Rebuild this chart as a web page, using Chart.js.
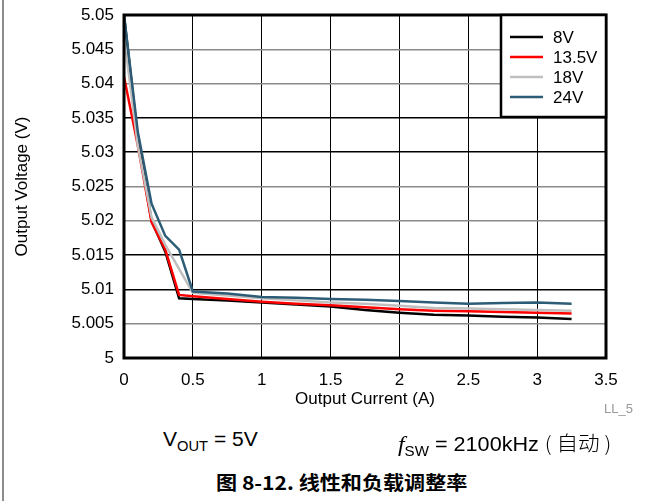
<!DOCTYPE html>
<html>
<head>
<meta charset="utf-8">
<script src="https://cdn.jsdelivr.net/npm/chart.js@4"></script>
<style>
  body { margin: 0; background: #fff; font-family: "Liberation Sans", Arial, sans-serif; }
  #page { position: relative; width: 662px; height: 501px; overflow: hidden; }
  #leftrule { position: absolute; left: 2px; top: 0; width: 2px; height: 501px; background: #8c8c8c; }
  #wrap { position: absolute; left: 0; top: 0; width: 662px; height: 415px; }
  .txt { position: absolute; white-space: nowrap; color: #000; transform-origin: left top; }
  sub { font-size: 14px; vertical-align: -5px; }
</style>
</head>
<body>
<div id="page">
  <div id="leftrule"></div>
  <div id="wrap"><canvas id="loadChart"></canvas></div>
  <div class="txt" style="left:604px; top:401px; font-size:13px; color:#999;">LL_5</div>
  <div class="txt" style="left:163px; top:428px; font-size:20px; transform:scaleX(1.05);">V<sub>OUT</sub> = 5V</div>
  <div class="txt" style="left:398px; top:428px; font-size:20px; transform:scaleX(1.08);"><span style="font-family:'Liberation Serif',serif; font-style:italic; font-size:22px;">f</span><sub>SW</sub> = 2100kHz <span style="font-family:'Noto Sans CJK SC',sans-serif; font-weight:300;">( 自动 )</span></div>
  <div class="txt" style="left:216px; top:468px; font-size:19px; font-weight:bold; font-family:'Noto Sans CJK SC','Liberation Sans',sans-serif; transform:scaleX(1.11);">图 8-12. 线性和负载调整率</div>
</div>
<script>
// output current (A)
const current = [0, 0.1, 0.2, 0.3, 0.4, 0.5, 0.75, 1.0, 1.25, 1.5, 1.75, 2.0, 2.25, 2.5, 2.75, 3.0, 3.25];

// output voltage (V) for each input voltage
const vin8 = [5.05, 5.032, 5.020, 5.0155, 5.0087, 5.0086, 5.0084, 5.0081, 5.0078, 5.0075, 5.0070, 5.0066, 5.0063, 5.0062, 5.0060, 5.0059, 5.0057];
const vin13 = [5.041, 5.031, 5.0198, 5.0158, 5.0092, 5.0090, 5.0086, 5.0082, 5.0079, 5.0077, 5.0074, 5.0071, 5.0069, 5.0068, 5.0067, 5.0066, 5.0065];
const vin18 = [5.047, 5.031, 5.0205, 5.0165, 5.0130, 5.0095, 5.0091, 5.0087, 5.0084, 5.0081, 5.0079, 5.0076, 5.0073, 5.0072, 5.0071, 5.0070, 5.0069];
const vin24 = [5.05, 5.033, 5.0225, 5.0178, 5.0158, 5.0097, 5.0094, 5.0089, 5.0088, 5.0086, 5.0085, 5.0083, 5.0081, 5.0079, 5.0080, 5.0081, 5.0079];

const seriesNames = ['8V', '13.5V', '18V', '24V'];
const seriesColors = ['#000000', '#ff0000', '#bfbfbf', '#2d5c76'];

const yTickLabels = ['5', '5.005', '5.01', '5.015', '5.02', '5.025', '5.03', '5.035', '5.04', '5.045', '5.05'];
const xTickLabels = ['0', '0.5', '1', '1.5', '2', '2.5', '3', '3.5'];

const toPoints = ys => ys.map((y, i) => ({ x: current[i], y: y }));
const allSeries = [vin8, vin13, vin18, vin24];
const FONT = '"Liberation Sans", Arial, sans-serif';

const datasets = allSeries.map((ys, i) => ({
    label: seriesNames[i],
    data: toPoints(ys),
    borderColor: seriesColors[i],
    backgroundColor: seriesColors[i],
    borderWidth: 2.5,
    pointRadius: 0,
    tension: 0,
    order: 3 - i
}));

// frame round the plot and the boxed legend in the top right
const framePlugin = {
    id: 'frame',
    afterDraw(chart) {
        const { ctx, chartArea: a } = chart;
        ctx.save();
        ctx.strokeStyle = '#000';
        ctx.lineWidth = 3;
        ctx.strokeRect(a.left, a.top, a.right - a.left, a.bottom - a.top);

        // legend
        const bx = 501, by = a.top, bw = a.right - bx, bh = 102;
        ctx.fillStyle = '#fff';
        ctx.fillRect(bx, by, bw, bh);
        ctx.lineWidth = 2.5;
        ctx.strokeRect(bx, by, bw, bh);
        ctx.font = '17px ' + FONT;
        ctx.textBaseline = 'middle';
        chart.data.datasets.forEach((ds, i) => {
            const y = 37 + i * 20;
            ctx.strokeStyle = ds.borderColor;
            ctx.lineWidth = 2.5;
            ctx.beginPath();
            ctx.moveTo(510, y);
            ctx.lineTo(543, y);
            ctx.stroke();
            ctx.fillStyle = '#000';
            ctx.fillText(ds.label, 553, y + 1);
        });
        ctx.restore();
    }
};

const hGridColor = ctx => {
    const k = ctx.index % 4;
    return (k === 2 || k === 3) ? '#000' : '#8a8a8a';
};

const ctx = document.getElementById('loadChart').getContext('2d');
const loadChart = new Chart(ctx, {
    type: 'line',
    data: { datasets: datasets },
    options: {
        responsive: true,
        maintainAspectRatio: false,
        animation: false,
        layout: { padding: { left: 0, right: 56, top: 15, bottom: 0 } },
        plugins: { legend: { display: false }, tooltip: { enabled: false } },
        scales: {
            x: {
                type: 'linear',
                min: 0,
                max: 3.5,
                afterFit: s => { s.height = 57; s.paddingLeft = 0; s.paddingRight = 0; },
                afterBuildTicks: s => { s.ticks = xTickLabels.map(v => ({ value: parseFloat(v) })); },
                ticks: {
                    color: '#000',
                    padding: 12,
                    maxRotation: 0,
                    font: { family: FONT, size: 17 },
                    callback: (v, i) => xTickLabels[i]
                },
                grid: { color: '#000', lineWidth: 1, drawTicks: false },
                border: { display: false },
                title: {
                    display: true,
                    text: 'Output Current (A)',
                    color: '#000',
                    padding: { top: 0, bottom: 5 },
                    font: { family: FONT, size: 17 }
                }
            },
            y: {
                type: 'linear',
                min: 5,
                max: 5.05,
                afterFit: s => { s.width = 124; s.paddingTop = 0; s.paddingBottom = 0; },
                afterBuildTicks: s => { s.ticks = yTickLabels.map(v => ({ value: parseFloat(v) })); },
                ticks: {
                    color: '#000',
                    padding: 10,
                    font: { family: FONT, size: 17 },
                    callback: (v, i) => yTickLabels[i]
                },
                grid: { color: hGridColor, lineWidth: 1.5, drawTicks: false },
                border: { display: false },
                title: {
                    display: true,
                    text: 'Output Voltage (V)',
                    color: '#000',
                    padding: { top: 12, bottom: 0 },
                    font: { family: FONT, size: 17 }
                }
            }
        }
    },
    plugins: [framePlugin]
});
</script>
</body>
</html>
